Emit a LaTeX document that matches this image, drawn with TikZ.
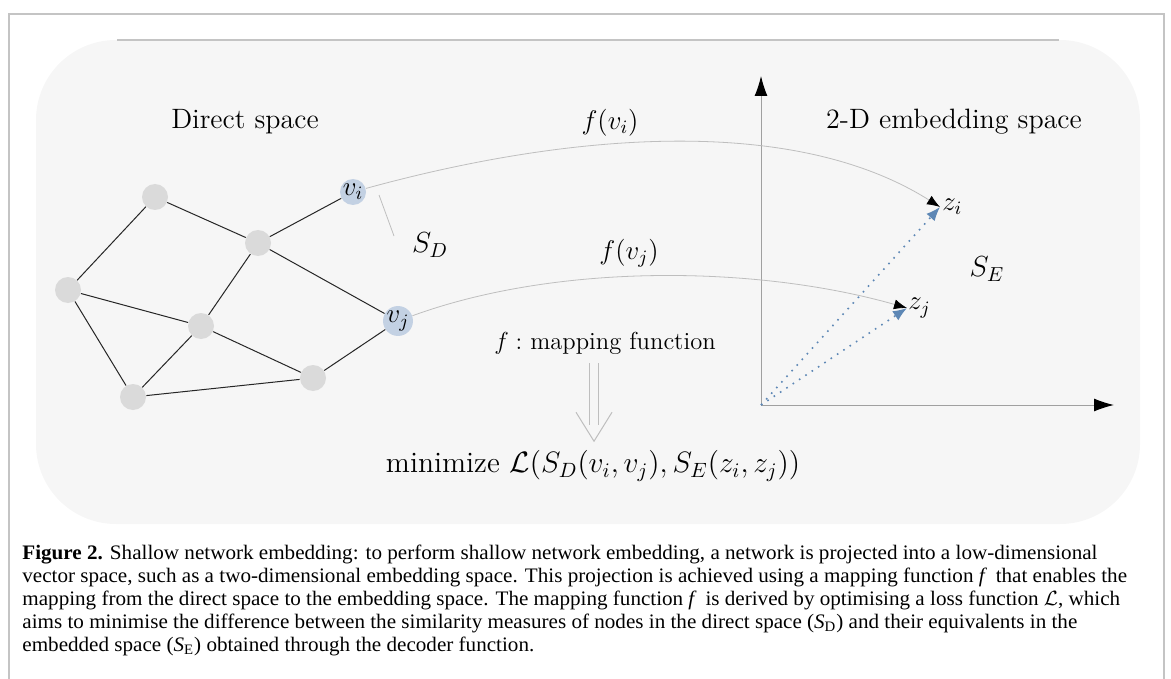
\documentclass[tikz,border=0pt]{standalone}
\usepackage{fix-cm}
\usepackage{amsmath}
\usepackage{fontspec}
\newfontfamily\capfont[FakeStretch=1.025]{Liberation Serif}
\usetikzlibrary{arrows.meta}

\definecolor{framegray}{HTML}{C4C4C4}
\definecolor{bgfill}{HTML}{F6F6F6}
\definecolor{nodegray}{HTML}{DADADA}
\definecolor{pickblue}{HTML}{C3D1E3}
\definecolor{projblue}{HTML}{5D87B5}
\definecolor{curvegray}{HTML}{BEBEBE}
\definecolor{axisgray}{HTML}{A0A0A0}

\begin{document}
\begin{tikzpicture}
[x=0.5pt, y=-0.5pt,
every node/.style={font=\fontsize{14}{16}\selectfont},
flbl/.style={font=\fontsize{13.5}{16}\selectfont},
slbl/.style={font=\fontsize{14.5}{17}\selectfont},
vtx/.style={circle, fill=nodegray, minimum size=13pt, inner sep=0pt},
pick/.style={vtx, fill=pickblue, font=\fontsize{13.5}{16}\selectfont},
edge/.style={line width=0.5pt, black!85},
axis/.style={line width=0.5pt, axisgray, -{Latex[length=10pt,width=6.5pt,color=black]}},
mapcurve/.style={line width=0.4pt, curvegray, -{Latex[length=6.5pt,width=5pt,color=black]}},
proj/.style={line width=0.8pt, projblue, dash pattern=on 0.8pt off 3pt, -{Latex[length=7pt,width=5.5pt]}},
dbl/.style={draw=curvegray, line width=0.5pt, double=bgfill, double distance=4pt},
caption/.style={anchor=base west, inner sep=0pt, text height=7.5pt, text depth=2.5pt, font=\capfont\fontsize{10.3}{11.45}\selectfont}]

\useasboundingbox (0,0) rectangle (1171,679);

% frame and panel
\draw[framegray, line width=1pt] (9,679) -- (9,14) -- (1164,14) -- (1164,679);
\fill[bgfill, rounded corners=40pt] (36,40) rectangle (1140,524);
\draw[framegray, line width=0.6pt] (117,40) -- (1059,40);

\node (direct) at (245,122) {Direct space};
\node (embed) at (954,122) {2-D embedding space};

% network
\node[vtx] (a) at (155,197) {};
\node[vtx] (b) at (258,243) {};
\node[vtx] (c) at (68,290) {};
\node[vtx] (d) at (201,326) {};
\node[vtx] (e) at (133,397) {};
\node[vtx] (g) at (313,378) {};
\node[pick] (vi) at (353,192) {$v_i$};
\node[pick] (vj) at (398,321) {$v_j$};
\foreach \s/\t in {a/c, a/b, b/vi, b/d, b/vj, c/d, c/e, d/e, d/g, e/g, g/vj}
  \draw[edge] (\s) -- (\t);

\draw[curvegray, line width=0.4pt] (379,195) -- (394,236);
\node[slbl] (SD) at (430,245) {$S_D$};

% embedding space
\coordinate (O) at (761,405);
\coordinate (ytip) at (761,76);
\coordinate (xtip) at (1114,405);
\draw[axis] (O) -- (ytip);
\draw[axis] (O) -- (xtip);

\coordinate (zi) at (940,207);
\coordinate (zj) at (907,308);
\node[flbl, anchor=west, inner sep=1pt] (lzi) at (zi) {$z_i$};
\node[flbl, anchor=west, inner sep=0.5pt] (lzj) at (zj) {$z_j$};
\draw[proj] (O) -- (zi);
\draw[proj] (O) -- (zj);
\node[slbl] (SE) at (987,269) {$S_E$};

% mapping
\draw[mapcurve] (vi) .. controls (560,135) and (790,112) .. (zi);
\draw[mapcurve] (vj) .. controls (560,262) and (760,266) .. (zj);
\node[flbl] (fvi) at (610,123) {$f(v_i)$};
\node[flbl] (fvj) at (629,253) {$f(v_j)$};

\node[font=\fontsize{12.3}{15}\selectfont] (map) at (605,343) {$f:$ mapping function};
\node[font=\fontsize{14.75}{17}\selectfont] (loss) at (593,466) {minimize $\mathcal{L}(S_D(v_i,v_j),S_E(z_i,z_j))$};
\draw[dbl] ([xshift=-5.5pt,yshift=-1pt]map.south) -- ++(0,62);
\draw[curvegray, line width=0.5pt] ([xshift=-5.5pt,yshift=-1pt]map.south) ++(-18,49) -- ++(18,29) -- ++(18,-29);

% caption
\node[caption] (cap1) at (22,559) {\textbf{Figure 2.} Shallow network embedding: to perform shallow network embedding, a network is projected into a low-dimensional};
\node[caption] (cap2) at (22,582) {vector space, such as a two-dimensional embedding space. This projection is achieved using a mapping function \textit{f}\, that enables the};
\node[caption] (cap3) at (22,605) {mapping from the direct space to the embedding space. The mapping function \textit{f}\, is derived by optimising a loss function $\mathcal{L}$, which};
\node[caption] (cap4) at (22,628) {aims to minimise the difference between the similarity measures of nodes in the direct space (\textit{S}\textsubscript{D}) and their equivalents in the};
\node[caption] (cap5) at (22,651) {embedded space (\textit{S}\textsubscript{E}) obtained through the decoder function.};
\end{tikzpicture}
\end{document}
